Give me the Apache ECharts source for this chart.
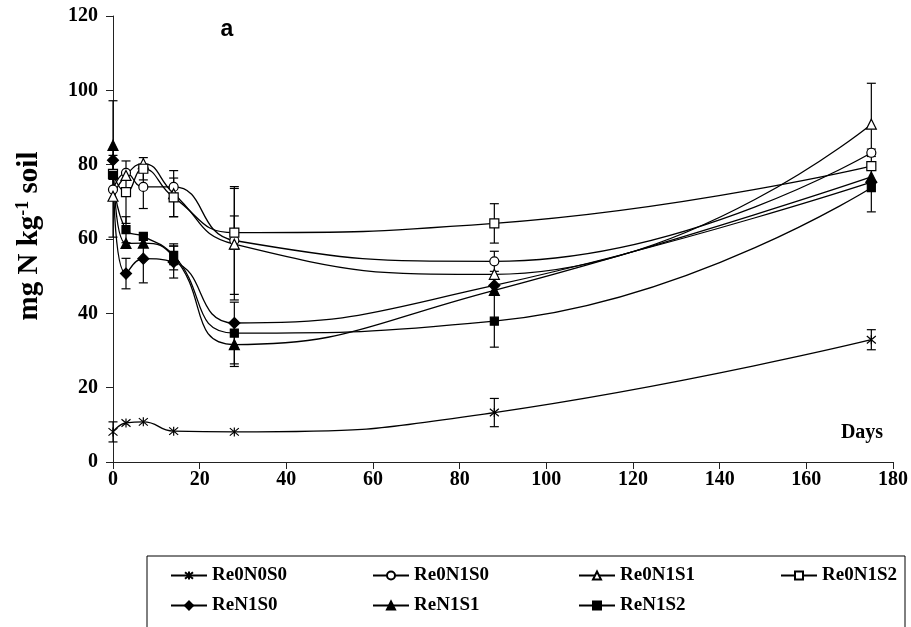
<!DOCTYPE html>
<html>
<head>
<meta charset="utf-8">
<script src="https://cdn.jsdelivr.net/npm/echarts@6/dist/echarts.min.js"></script>
<style>html,body{margin:0;padding:0;background:#fff}#c{width:911px;height:627px}</style>
</head>
<body>
<div id="c"></div>
<script>
const days = [0, 3, 7, 14, 28, 88, 175];
const xTicks = [0, 20, 40, 60, 80, 100, 120, 140, 160, 180];
const yTicks = [0, 20, 40, 60, 80, 100, 120];

const Re0N0S0 = [8.1, 10.5, 10.8, 8.3, 8.1, 13.3, 32.9];
const Re0N1S0 = [73.3, 77.8, 74.0, 74.0, 59.6, 54.0, 83.2];
const Re0N1S1 = [71.5, 77.1, 80.3, 72.2, 58.6, 50.5, 90.9];
const Re0N1S2 = [77.5, 72.6, 78.9, 71.2, 61.7, 64.2, 79.6];
const ReN1S0  = [81.2, 50.7, 54.7, 53.8, 37.4, 47.5, 75.3];
const ReN1S1  = [85.2, 58.8, 58.9, 55.2, 31.6, 46.2, 76.7];
const ReN1S2  = [77.1, 62.5, 60.7, 55.6, 34.7, 37.9, 73.8];

const errRe0N0S0 = [2.7, 0, 0, 0, 0, 3.8, 2.7];
const errRe0N1S0 = [0, 0, 5.8, 0, 14.5, 2.7, 1.0];
const errRe0N1S1 = [11, 0, 0, 6.2, 15, 0, 11];
const errRe0N1S2 = [0, 8.4, 3, 5.2, 4.5, 5.3, 0];
const errReN1S0  = [0, 4.1, 6.5, 4.3, 0, 0, 0];
const errReN1S1  = [12, 0, 0, 3.5, 5.9, 0, 0];
const errReN1S2  = [0, 3.5, 0, 2.5, 8.3, 7.0, 6.5];

const names = ['Re0N0S0','Re0N1S0','Re0N1S1','Re0N1S2','ReN1S0','ReN1S1','ReN1S2'];
const values = [Re0N0S0, Re0N1S0, Re0N1S1, Re0N1S2, ReN1S0, ReN1S1, ReN1S2];
const errors = [errRe0N0S0, errRe0N1S0, errRe0N1S1, errRe0N1S2, errReN1S0, errReN1S1, errReN1S2];

const SERIF = '"Liberation Serif","Times New Roman",serif';
const star = 'path://M0,0L10,10M10,0L0,10M5,-1L5,11';
const styles = [
  {symbol: star, size: 9, fill: 'none'},
  {symbol: 'circle', size: 9, fill: '#fff'},
  {symbol: 'triangle', size: 10, fill: '#fff'},
  {symbol: 'rect', size: 9, fill: '#fff'},
  {symbol: 'diamond', size: 11, fill: '#000'},
  {symbol: 'triangle', size: 10, fill: '#000'},
  {symbol: 'rect', size: 8, fill: '#000'}
];

const series = [];
names.forEach((n, k) => {
  const errData = [];
  days.forEach((d, i) => {
    if (errors[k][i] > 0) errData.push([d, values[k][i] - errors[k][i], values[k][i] + errors[k][i]]);
  });
  series.push({
    type: 'custom', name: n + '_err', z: 1, silent: true,
    renderItem: function (params, api) {
      const x = api.value(0), lo = api.value(1), hi = api.value(2);
      const a = api.coord([x, lo]), b = api.coord([x, hi]);
      const w = 4.5, st = {stroke: '#000', lineWidth: 1.2};
      return {type: 'group', children: [
        {type: 'line', shape: {x1: a[0], y1: a[1], x2: b[0], y2: b[1]}, style: st},
        {type: 'line', shape: {x1: a[0]-w, y1: a[1], x2: a[0]+w, y2: a[1]}, style: st},
        {type: 'line', shape: {x1: b[0]-w, y1: b[1], x2: b[0]+w, y2: b[1]}, style: st}
      ]};
    },
    encode: {x: 0, y: [1, 2]},
    data: errData
  });
});
names.forEach((n, k) => {
  series.push({
    type: 'line', name: n, z: 3,
    data: days.map((d, i) => [d, values[k][i]]),
    smooth: 0.5,
    symbol: styles[k].symbol,
    symbolSize: styles[k].size,
    showAllSymbol: true,
    lineStyle: {color: '#000', width: 1.3},
    itemStyle: {color: styles[k].fill, borderColor: '#000', borderWidth: 1.2},
    emphasis: {disabled: true},
    animation: false
  });
});

const legendPos = [[170,566],[372,566],[578,566],[780,566],[170,596],[372,596],[578,596]];
const legends = names.map((n, k) => ({
  data: [n], left: legendPos[k][0], top: legendPos[k][1],
  padding: 0, itemWidth: 36, itemHeight: 10, itemGap: 0,
  selectedMode: false,
  textStyle: {fontFamily: SERIF, fontWeight: 'bold', fontSize: 19, color: '#000'}
}));

const chart = echarts.init(document.getElementById('c'));
chart.setOption({
  animation: false,
  backgroundColor: '#fff',
  grid: {left: 113, right: 18, top: 16, bottom: 165},
  xAxis: {
    type: 'value', min: xTicks[0], max: xTicks[xTicks.length-1], interval: 20,
    axisLine: {lineStyle: {color: '#222', width: 1}},
    axisTick: {show: true, length: 7, lineStyle: {color: '#222'}},
    splitLine: {show: false},
    axisLabel: {margin: 8, fontFamily: SERIF, fontWeight: 'bold', fontSize: 20, color: '#000'}
  },
  yAxis: {
    type: 'value', min: yTicks[0], max: yTicks[yTicks.length-1], interval: 20,
    axisLine: {show: true, lineStyle: {color: '#222', width: 1}},
    axisTick: {show: true, length: 7, lineStyle: {color: '#222'}},
    splitLine: {show: false},
    axisLabel: {margin: 15, fontFamily: SERIF, fontWeight: 'bold', fontSize: 20, color: '#000'}
  },
  legend: legends,
  graphic: [
    {type: 'rect', shape: {x: 147, y: 556, width: 758, height: 120},
     style: {fill: 'none', stroke: '#000', lineWidth: 1}},
    {type: 'text', x: 227, y: 30,
     style: {text: 'a', fontFamily: '"Liberation Sans",Arial,sans-serif', fontWeight: 'bold', fontSize: 23,
             fill: '#000', align: 'center', verticalAlign: 'middle'}},
    {type: 'text', x: 862, y: 433,
     style: {text: 'Days', fontFamily: SERIF, fontWeight: 'bold', fontSize: 20,
             fill: '#000', align: 'center', verticalAlign: 'middle'}},
    {type: 'text', x: 30, y: 236, rotation: Math.PI / 2,
     style: {text: '{b|mg N kg}{s|-1}{b| soil}', align: 'center', verticalAlign: 'middle',
             rich: {
               b: {fontFamily: SERIF, fontWeight: 'bold', fontSize: 29, fill: '#000', lineHeight: 34},
               s: {fontFamily: SERIF, fontWeight: 'bold', fontSize: 18, fill: '#000', lineHeight: 34, padding: [0, 0, 14, 0]}
             }}}
  ],
  series: series
});
</script>
</body>
</html>
